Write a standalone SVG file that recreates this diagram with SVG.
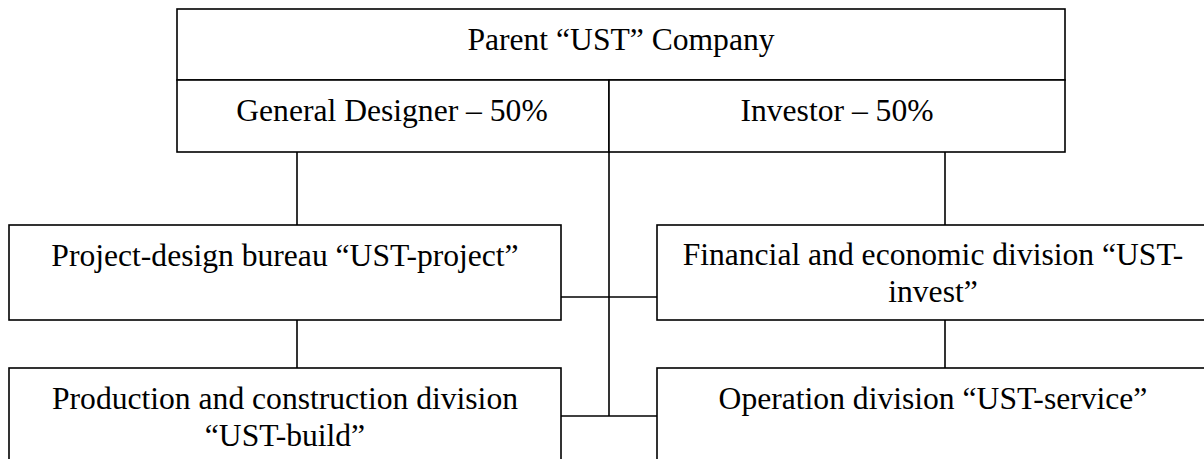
<svg xmlns="http://www.w3.org/2000/svg" width="1204" height="459" viewBox="0 0 1204 459">
  <style>
    .box { fill: #ffffff; stroke: #000000; stroke-width: 1.6; }
    .link { fill: none; stroke: #000000; stroke-width: 1.6; }
    .label { font-family: "Liberation Serif", "Times New Roman", serif; font-size: 31.6px; fill: #000000; text-anchor: middle; }
  </style>
  <rect x="0" y="0" width="1204" height="459" fill="#ffffff"/>

  <!-- connectors -->
  <g id="connectors">
    <line class="link" x1="297" y1="152" x2="297" y2="225"/>
    <line class="link" x1="297" y1="320" x2="297" y2="368"/>
    <line class="link" x1="945" y1="152" x2="945" y2="225"/>
    <line class="link" x1="945" y1="320" x2="945" y2="368"/>
    <line class="link" x1="609" y1="152" x2="609" y2="416"/>
    <line class="link" x1="561" y1="297" x2="657" y2="297"/>
    <line class="link" x1="561" y1="416" x2="657" y2="416"/>
  </g>

  <!-- parent company header -->
  <g id="parent">
    <rect class="box" x="177" y="9" width="888" height="71"/>
    <text class="label" x="621" y="49.5">Parent “UST” Company</text>
  </g>

  <g id="general-designer">
    <rect class="box" x="177" y="80" width="432" height="72"/>
    <text class="label" x="392" y="120.5">General Designer – 50%</text>
  </g>

  <g id="investor">
    <rect class="box" x="609" y="80" width="456" height="72"/>
    <text class="label" x="837" y="120.5">Investor – 50%</text>
  </g>

  <!-- divisions -->
  <g id="ust-project">
    <rect class="box" x="9" y="225" width="552" height="95"/>
    <text class="label" x="285" y="266">Project-design bureau “UST-project”</text>
  </g>

  <g id="ust-invest">
    <rect class="box" x="657" y="225" width="552" height="95"/>
    <text class="label" x="933" y="265">Financial and economic division “UST-</text>
    <text class="label" x="933" y="301.7">invest”</text>
  </g>

  <g id="ust-build">
    <rect class="box" x="9" y="368" width="552" height="100"/>
    <text class="label" x="285" y="409.3">Production and construction division</text>
    <text class="label" x="285" y="446">“UST-build”</text>
  </g>

  <g id="ust-service">
    <rect class="box" x="657" y="368" width="552" height="100"/>
    <text class="label" x="933" y="409">Operation division “UST-service”</text>
  </g>
</svg>
